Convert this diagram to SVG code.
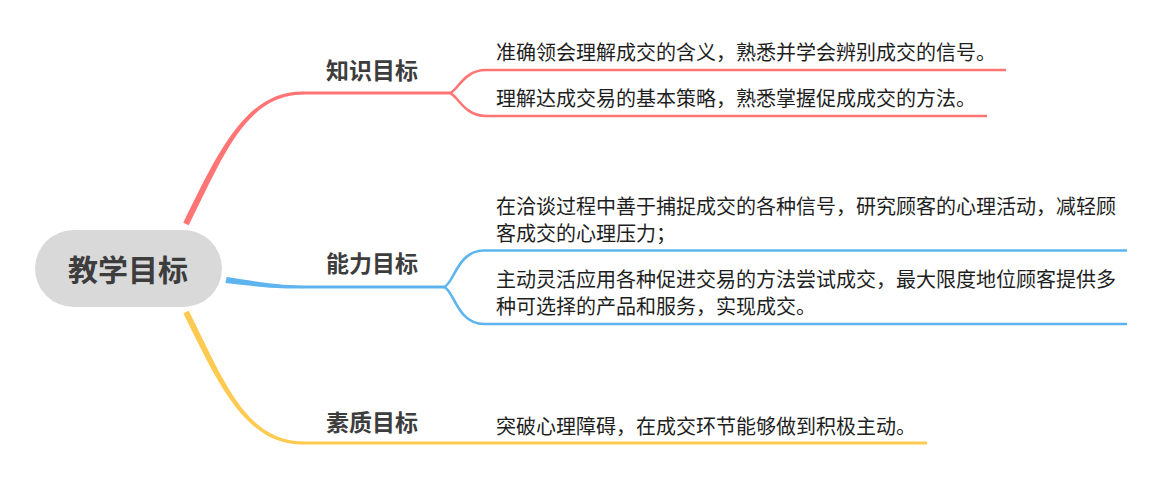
<svg xmlns="http://www.w3.org/2000/svg" width="1174" height="491" viewBox="0 0 1174 491">
<style>
.body{font-family:"Noto Sans CJK SC","Noto Sans",sans-serif;font-size:20px;fill:#1e1e1e}
.lbl{font-family:"Noto Sans CJK SC","Noto Sans",sans-serif;font-size:23px;font-weight:bold;fill:#3d3d3d}
.root{font-family:"Noto Sans CJK SC","Noto Sans",sans-serif;font-size:30px;font-weight:bold;fill:#3d3d3d}
.ln{fill:none;stroke-linecap:butt}
.red{stroke:#ff7575}
.blue{stroke:#5eb4ef}
.yel{stroke:#ffca52}
.main{stroke-width:3}
.sub{stroke-width:2.6}
</style>
<rect width="1174" height="491" fill="#ffffff"/>
<g id="connectors">
  <path d="M188.7,225.3 C223,157.5 245,95.2 303,94.6 L303,91.4 C245,90.8 217,154.5 183.3,222.7 Z" fill="#ff7575"/>
  <path d="M188.7,310.7 C223,378.5 245,440.8 303,441.4 L303,444.6 C245,445.2 217,381.5 183.3,313.3 Z" fill="#ffca52"/>
  <path d="M226.6,277.1 C250,280.2 272,285.2 303,285.4 L303,288.6 C272,288.8 250,285.8 225.4,282.9 Z" fill="#5eb4ef"/>
  <path class="ln red main" d="M302,93 H450"/>
  <path class="ln red sub" d="M450,93 C458,90 464,70 486,70 H1006"/>
  <path class="ln red sub" d="M450,93 C458,96 464,116 486,116 H987"/>
  <path class="ln blue main" d="M302,287 H444"/>
  <path class="ln blue sub" d="M444,287 C454,284 457,250.5 484,250.5 H1127"/>
  <path class="ln blue sub" d="M444,287 C454,290 457,324 484,324 H1127"/>
  <path class="ln yel main" d="M302,443 H927"/>
</g>
<g id="root">
  <rect x="35" y="230" width="187" height="77" rx="38.5" ry="38.5" fill="#d9d9d9"/>
  <text class="root" x="68" y="281">教学目标</text>
</g>
<g id="knowledge">
  <text class="lbl" x="326" y="78.7">知识目标</text>
</g>
<g id="k1">
  <text class="body" x="496" y="59.6">准确领会理解成交的含义，熟悉并学会辨别成交的信号。</text>
</g>
<g id="k2">
  <text class="body" x="496" y="106.3">理解达成交易的基本策略，熟悉掌握促成成交的方法。</text>
</g>
<g id="ability">
  <text class="lbl" x="326" y="272.1">能力目标</text>
</g>
<g id="a1">
  <text class="body" x="496" y="213.6">在洽谈过程中善于捕捉成交的各种信号，研究顾客的心理活动，减轻顾</text>
  <text class="body" x="496" y="241">客成交的心理压力；</text>
</g>
<g id="a2">
  <text class="body" x="496" y="286.9">主动灵活应用各种促进交易的方法尝试成交，最大限度地位顾客提供多</text>
  <text class="body" x="496" y="314.3">种可选择的产品和服务，实现成交。</text>
</g>
<g id="quality">
  <text class="lbl" x="326" y="430.7">素质目标</text>
</g>
<g id="q1">
  <text class="body" x="496" y="433.6">突破心理障碍，在成交环节能够做到积极主动。</text>
</g>
</svg>
